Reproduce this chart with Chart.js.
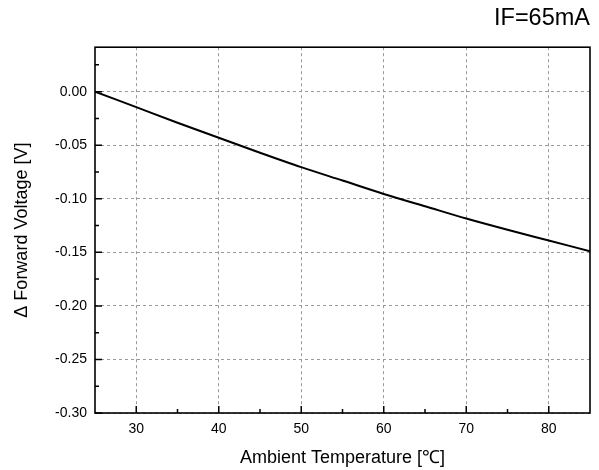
<!DOCTYPE html>
<html>
<head>
<meta charset="utf-8">
<script src="https://cdn.jsdelivr.net/npm/chart.js@4/dist/chart.umd.min.js"></script>
<style>
  html, body { margin: 0; padding: 0; background: #fff; }
  #wrap { width: 599px; height: 470px; }
</style>
</head>
<body>
<div id="wrap"><canvas id="vf-chart" width="599" height="470"></canvas></div>
<script>
// data
const temps = [25, 30, 35, 40, 45, 50, 55, 60, 65, 70, 75, 80, 85]
const deltaVf = [0, -0.0145, -0.029, -0.043, -0.057, -0.0705, -0.083, -0.0955, -0.107, -0.1185, -0.129, -0.139, -0.149]

const X_TICKS = [30, 40, 50, 60, 70, 80]
const X_MINOR = [35, 45, 55, 65, 75]
const Y_TICKS = [0, -0.05, -0.10, -0.15, -0.20, -0.25, -0.30]
const Y_MINOR = [0.025, -0.025, -0.075, -0.125, -0.175, -0.225, -0.275]

const FONT = "'Liberation Sans', Arial, sans-serif"

// frame on all four sides + inward ticks (origin style)
const framePlugin = {
    id: 'frame',
    afterDraw(chart) {
        const ctx = chart.ctx
        const a = chart.chartArea
        const x = chart.scales.x
        const y = chart.scales.y
        ctx.save()
        ctx.strokeStyle = '#000'
        ctx.lineWidth = 1.5
        ctx.beginPath()
        X_TICKS.forEach(v => { const px = x.getPixelForValue(v); ctx.moveTo(px, a.bottom); ctx.lineTo(px, a.bottom - 7) })
        X_MINOR.forEach(v => { const px = x.getPixelForValue(v); ctx.moveTo(px, a.bottom); ctx.lineTo(px, a.bottom - 4) })
        Y_TICKS.forEach(v => { const py = y.getPixelForValue(v); ctx.moveTo(a.left, py); ctx.lineTo(a.left + 7, py) })
        Y_MINOR.forEach(v => { const py = y.getPixelForValue(v); ctx.moveTo(a.left, py); ctx.lineTo(a.left + 4, py) })
        ctx.stroke()
        ctx.lineWidth = 1.6
        ctx.strokeRect(a.left, a.top, a.right - a.left, a.bottom - a.top)
        ctx.restore()
    }
}

const config = {
    type: 'line',
    data: {
        datasets: [{
            data: temps.map((t, i) => ({ x: t, y: deltaVf[i] })),
            borderColor: '#000',
            borderWidth: 2,
            pointRadius: 0,
            cubicInterpolationMode: 'monotone',
            fill: false,
        }]
    },
    options: {
        responsive: false,
        animation: false,
        layout: { padding: { left: 0, right: 9, top: 0, bottom: 0 } },
        plugins: {
            legend: { display: false },
            tooltip: { enabled: false },
            title: {
                display: true,
                text: 'IF=65mA',
                align: 'end',
                color: '#000',
                font: { family: FONT, size: 23.5, weight: 'normal', lineHeight: 1.2 },
                padding: { top: 4, bottom: 15 },
            },
        },
        scales: {
            x: {
                type: 'linear',
                min: 25,
                max: 85,
                afterBuildTicks: s => { s.ticks = X_TICKS.map(v => ({ value: v })) },
                afterFit: s => { s.height = 57 },
                grid: { color: '#9a9a9a', lineWidth: 1, drawTicks: false },
                border: { display: false, dash: [3, 3] },
                ticks: { color: '#000', padding: 8, font: { family: FONT, size: 14 } },
                title: {
                    display: true,
                    text: 'Ambient Temperature [℃]',
                    color: '#000',
                    font: { family: FONT, size: 18 },
                    padding: { top: 0, bottom: 1 },
                },
            },
            y: {
                type: 'linear',
                min: -0.30,
                max: 0.0415,
                afterBuildTicks: s => { s.ticks = Y_TICKS.map(v => ({ value: v })) },
                afterFit: s => { s.width = 95 },
                grid: { color: '#9a9a9a', lineWidth: 1, drawTicks: false },
                border: { display: false, dash: [3, 3] },
                ticks: {
                    color: '#000',
                    padding: 8,
                    font: { family: FONT, size: 14 },
                    callback: v => v.toFixed(2),
                },
                title: {
                    display: true,
                    text: 'Δ Forward Voltage [V]',
                    color: '#000',
                    font: { family: FONT, size: 18 },
                    padding: { top: 11, bottom: 0 },
                },
            },
        },
    },
    plugins: [framePlugin],
}

new Chart(document.getElementById('vf-chart').getContext('2d'), config)
</script>
</body>
</html>
